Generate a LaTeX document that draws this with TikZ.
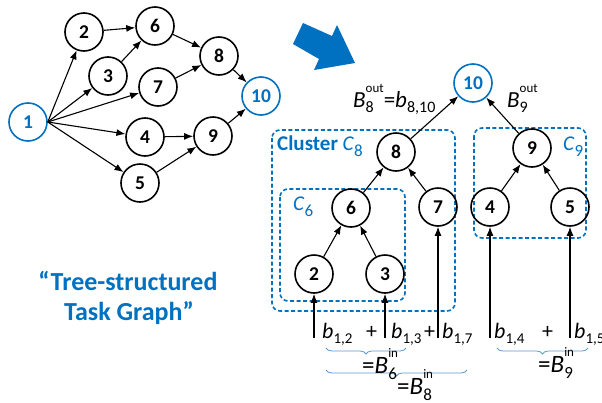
\documentclass[tikz,border=0pt]{standalone}
\usepackage{fontspec}
\setmainfont{Carlito}
\usetikzlibrary{arrows.meta,decorations.pathreplacing}
\definecolor{mblue}{HTML}{0070C0}
\definecolor{lblue}{HTML}{5B9BD5}
\newcommand\fs[1]{\fontsize{#1}{#1}\selectfont}
\newsavebox\mysupbox
\newsavebox\mysubbox
% letter, sub, sup, sub size, sup size
\newcommand\vv[5]{\textit{#1}%
  \sbox\mysupbox{\raisebox{0.62em}{\fs{#5}#3}}%
  \sbox\mysubbox{\raisebox{-0.24em}{\fs{#4}#2}}%
  \ifdim\wd\mysupbox>\wd\mysubbox\rlap{\usebox\mysubbox}\usebox\mysupbox
  \else\rlap{\usebox\mysupbox}\usebox\mysubbox\fi}
\newcommand\vb[3]{\textit{#1}\raisebox{-0.24em}{\fs{#3}#2}}
\tikzset{
  tn/.style={circle,draw,line width=1.6pt,minimum size=38pt,inner sep=0pt,font=\fs{19.5}\bfseries},
  bn/.style={tn,draw=mblue,text=mblue},
  ar/.style={-{Latex[length=9pt,width=7pt]},line width=1.1pt},
  clus/.style={draw=mblue,line width=1.6pt,rounded corners=8pt,dash pattern=on 4pt off 2.5pt},
  br/.style={decorate,decoration={brace,mirror,amplitude=6pt},draw=lblue,line width=0.8pt},
  lab/.style={font=\fs{22},inner sep=0pt,anchor=base west},
  toplab/.style={lab,font=\fs{23}},
  eqlab/.style={lab,font=\fs{25}},
  clab/.style={lab,font=\fs{21},text=mblue},
  ttl/.style={font=\fs{26}\bfseries,text=mblue,inner sep=0pt,anchor=base},
}
\begin{document}
\begin{tikzpicture}[x=1pt,y=-1pt]
\useasboundingbox (0,0) rectangle (602,402);
% big arrow
\fill[mblue] (293,44) -- (303,23) -- (332,36) -- (337,25) -- (355,63) -- (314,70) -- (319,59) -- cycle;
% left graph
\node[bn] (a1) at (28,122) {1};
\node[tn] (a2) at (84,32) {2};
\node[tn] (a3) at (108,76) {3};
\node[tn] (a6) at (155,26) {6};
\node[tn] (a7) at (158,87) {7};
\node[tn] (a8) at (219,56) {8};
\node[bn] (a10) at (261,96) {10};
\node[tn] (a4) at (145,137) {4};
\node[tn] (a9) at (213,136) {9};
\node[tn] (a5) at (140,183) {5};
\foreach \t in {a2,a3,a7,a4,a5} \draw[ar] (a1.east) -- (\t);
\draw[ar] (a2) -- (a6);
\draw[ar] (a3) -- (a6);
\draw[ar] (a6) -- (a8);
\draw[ar] (a7) -- (a8);
\draw[ar] (a8) -- (a10);
\draw[ar] (a4) -- (a9);
\draw[ar] (a5) -- (a9);
\draw[ar] (a9) -- (a10);
% title
\node[ttl] (t1) at (128,290) {“Tree-structured};
\node[ttl] (t2) at (129,320) {Task Graph”};
% clusters
\draw[clus] (272,130) rectangle (455,311);
\draw[clus] (280,189) rectangle (405,301);
\draw[clus] (474,128) rectangle (586,238);
\node[clab] (cl8) at (277,150) {\textbf{Cluster} \textit{C}\raisebox{-0.3em}{\fs{17}8}};
\node[clab] (cl6) at (293,210) {\textit{C}\raisebox{-0.3em}{\fs{17}6}};
\node[clab] (cl9) at (563,150) {\textit{C}\raisebox{-0.3em}{\fs{17}9}};
% tree
\node[bn] (b10) at (473,83) {10};
\node[tn] (b8) at (396,152) {8};
\node[tn] (b9) at (532,148) {9};
\node[tn] (b6) at (351,208) {6};
\node[tn] (b7) at (438,207) {7};
\node[tn] (b4) at (490,207) {4};
\node[tn] (b5) at (570,207) {5};
\node[tn] (b2) at (314,274) {2};
\node[tn] (b3) at (385,274) {3};
\draw[ar] (b8) -- (b10);
\draw[ar] (b9) -- (b10);
\draw[ar] (b6) -- (b8);
\draw[ar] (b7) -- (b8);
\draw[ar] (b4) -- (b9);
\draw[ar] (b5) -- (b9);
\draw[ar] (b2) -- (b6);
\draw[ar] (b3) -- (b6);
\coordinate (i2) at (314,338);
\coordinate (i3) at (385,338);
\coordinate (i7) at (438,338);
\coordinate (i4) at (490,338);
\coordinate (i5) at (570,338);
\draw[ar] (i2) -- (b2.south);
\draw[ar] (i3) -- (b3.south);
\draw[ar] (i7) -- (b7.south);
\draw[ar] (i4) -- (b4.south);
\draw[ar] (i5) -- (b5.south);
% labels
\node[toplab] (bo8) at (353,107) {\vv{B}{8}{out}{16}{13}=\vb{b}{8,10}{16}};
\node[toplab] (bo9) at (507,107) {\vv{B}{9}{out}{16}{13}};
\node[lab] (l12) at (322,338) {\vb{b}{1,2}{15}};
\node[lab] (p1) at (366,338) {+};
\node[lab] (l13) at (391,338) {\vb{b}{1,3}{15}};
\node[lab] (p2) at (424,338) {+};
\node[lab] (l17) at (442,338) {\vb{b}{1,7}{15}};
\node[lab] (l14) at (494,338) {\vb{b}{1,4}{15}};
\node[lab] (p3) at (542,338) {+};
\node[lab] (l15) at (574,338) {\vb{b}{1,5}{15}};
% braces
\coordinate (br1a) at (326,348);
\coordinate (br1b) at (406,348);
\coordinate (br2a) at (326,370);
\coordinate (br2b) at (467,370);
\coordinate (br3a) at (497,348);
\coordinate (br3b) at (588,348);
\draw[br] (br1a) -- (br1b);
\draw[br] (br2a) -- (br2b);
\draw[br] (br3a) -- (br3b);
\node[eqlab] (bi6) at (362,373) {=\vv{B}{6}{in}{17}{13}};
\node[eqlab] (bi8) at (397,394) {=\vv{B}{8}{in}{17}{13}};
\node[eqlab] (bi9) at (538,372) {=\vv{B}{9}{in}{17}{13}};
\end{tikzpicture}
\end{document}
